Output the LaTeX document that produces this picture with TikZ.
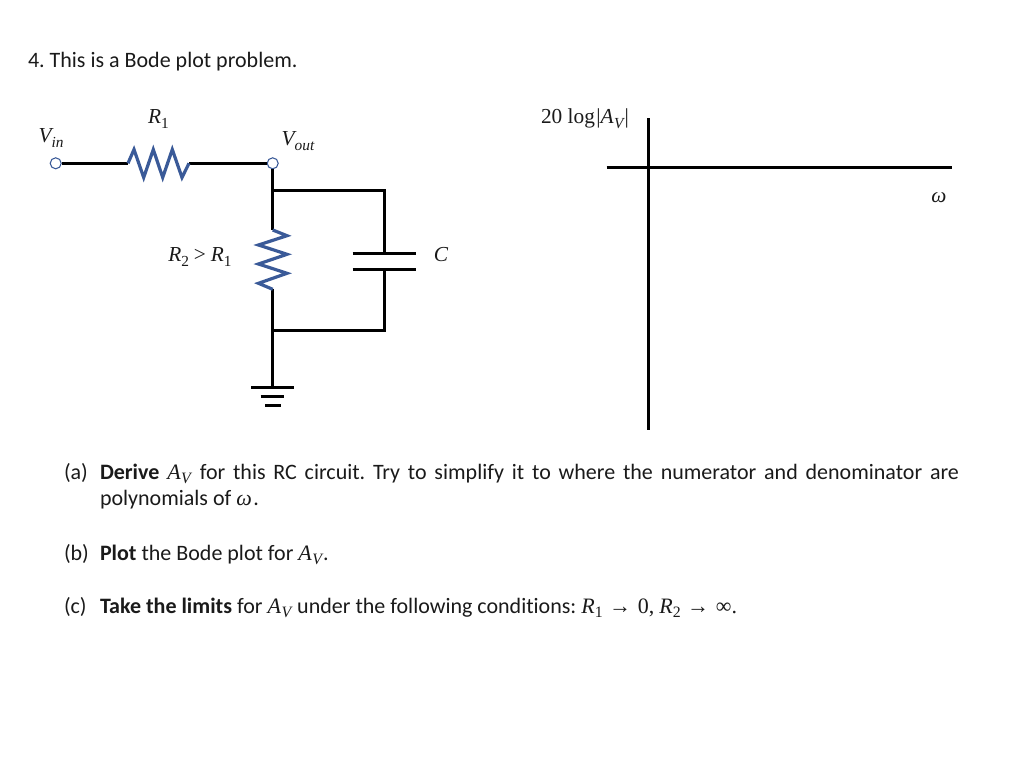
\documentclass[tikz,border=0pt]{standalone}
\usepackage{fontspec}
\setmainfont{Carlito}[Ligatures=NoCommon]
\frenchspacing
\newfontfamily\mthf{Liberation Serif}
\newcommand{\mi}[1]{{\mthf\itshape #1}}
\newcommand{\mr}[1]{{\mthf #1}}
\newcommand{\sbs}[1]{\raisebox{-0.42ex}{\scalebox{0.72}{#1}}}
\newcommand{\AV}{\mi{A}\kern0.4pt\sbs{\mi{V}}\kern0.8pt}
\definecolor{resblue}{HTML}{3A5A98}
\definecolor{ink}{HTML}{1A1A1A}
\tikzset{
  wire/.style={line width=2pt,black,line cap=butt,line join=miter},
  axis/.style={line width=2.25pt,black},
  res/.style={line width=2.4pt,resblue,line join=miter},
  term/.style={circle,draw=resblue,fill=white,line width=0.8pt,minimum size=8.25pt,inner sep=0pt},
  txt/.style={anchor=base west,inner sep=0pt,outer sep=0pt,font=\fontsize{16.5}{20}\selectfont,text=ink},
  lab/.style={anchor=base,inner sep=0pt,outer sep=0pt,font=\fontsize{16}{19}\selectfont,text=ink}
}
\begin{document}
\begin{tikzpicture}[x=0.75pt,y=-0.75pt]
\useasboundingbox (0,0) rectangle (1024,777);
% named points
\node[term] (vin) at (55.7,163.3) {};
\node[term] (vout) at (272.7,163.3) {};
\coordinate (r1a) at (128,163.3);
\coordinate (r1b) at (189,163.3);
\coordinate (top) at (272.7,190.7);
\coordinate (topr) at (384.4,190.7);
\coordinate (cu) at (384.4,253.3);
\coordinate (cl) at (384.4,269.3);
\coordinate (botr) at (384.4,330.7);
\coordinate (bot) at (272.7,330.7);
\coordinate (r2a) at (272.7,230);
\coordinate (r2b) at (272.7,289.3);
\coordinate (gnd) at (272.7,387.7);
% wires
\draw[wire] (vin) -- (r1a);
\draw[wire] (r1b) -- (vout);
\draw[wire] (vout) -- (r2a);
\draw[wire] (top) -- (topr) -- (cu);
\draw[wire] (cl) -- (botr) -- (bot);
\draw[wire] (r2b) -- (gnd);
% resistors
\draw[res] (r1a) -- (134,149.5) -- (143.7,177.5) -- (153.3,149.5) -- (162.7,177.5) -- (172.3,149.5) -- (182,177.5) -- (r1b);
\draw[res] (r2a) -- (287,235.7) -- (258.5,245) -- (287,254.3) -- (258.5,264) -- (287,273.3) -- (258.5,283.3) -- (r2b);
% capacitor
\draw[wire] (352.7,253.3) -- (415.7,253.3);
\draw[wire] (352.7,269.3) -- (415.7,269.3);
% ground
\draw[wire] (251,387.7) -- (294.3,387.7);
\draw[wire] (260.7,396.7) -- (284.3,396.7);
\draw[wire] (265,405.7) -- (280.7,405.7);
% axes
\coordinate (yt) at (648.3,118.3);
\coordinate (yb) at (648.3,430);
\coordinate (xl) at (606.7,167.7);
\coordinate (xr) at (951.7,167.7);
\draw[axis] (yt) -- (yb);
\draw[axis] (xl) -- (xr);
% labels
\node[lab] (lr1) at (158.5,124) {\mi{R}\sbs{\mr{1}}};
\node[lab] (lvin) at (51,143) {\mi{V}\sbs{\mi{in}}};
\node[lab] (lvout) at (298,146) {\mi{V}\sbs{\mi{out}}};
\node[lab] (lr2) at (200,262) {\mi{R}\sbs{\mr{2}} \mr{>} \mi{R}\sbs{\mr{1}}};
\node[lab] (lc) at (441,262) {\mi{C}};
\node[lab,anchor=base west] (lg) at (541,124) {\mr{20 log\kern1pt|}\AV\mr{|}};
\node[lab] (lw) at (939,203) {\mi{ω}};
% text
\node[txt] (t0) at (28,68) {4. This is a Bode plot problem.};
\node[txt] (ta) at (64,479) {(a)};
\node[txt] (ta1) at (100,479) {\hbox to 644.25pt{\textbf{Derive} \AV{} for this RC circuit. Try to simplify it to where the numerator and denominator are}};
\node[txt] (ta2) at (100,505) {polynomials of \mi{ω}\kern1pt.};
\node[txt] (tb) at (64,560) {(b)};
\node[txt] (tb1) at (100,560) {\textbf{Plot} the Bode plot for \AV.};
\node[txt] (tc) at (64,613) {(c)};
\node[txt] (tc1) at (100,613) {\textbf{Take the limits} for \AV{} under the following conditions: \mi{R}\sbs{\mr{1}}\kern1pt{} \mr{→\kern1pt{} 0,} \mi{R}\sbs{\mr{2}}\kern1pt{} \mr{→\kern1pt{} ∞.}};
\end{tikzpicture}
\end{document}
